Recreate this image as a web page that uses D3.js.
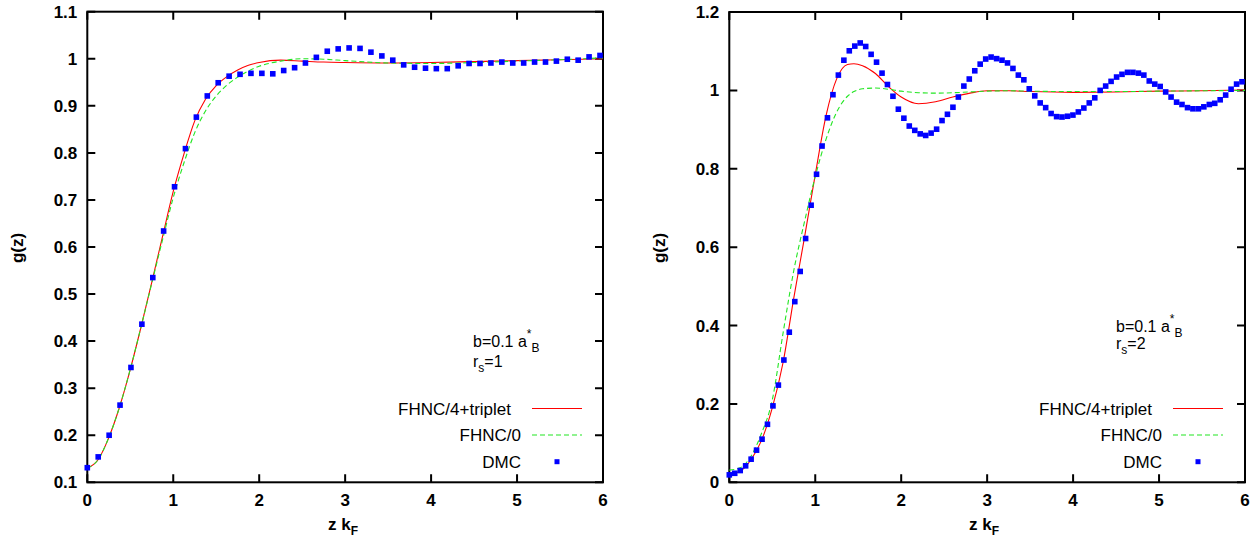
<!DOCTYPE html>
<html>
<head>
<meta charset="utf-8">
<script src="https://cdn.jsdelivr.net/npm/d3@7"></script>
<style>
body { margin: 0; background: #fff; }
text { font-family: "Liberation Sans", Arial, sans-serif; fill: #000; }
</style>
</head>
<body>
<div id="chart"></div>
<script>
// ---- data ----
var xTicks = [0, 1, 2, 3, 4, 5, 6];
var yTicksLeft = [0.1, 0.2, 0.3, 0.4, 0.5, 0.6, 0.7, 0.8, 0.9, 1.0, 1.1];
var yTicksRight = [0, 0.2, 0.4, 0.6, 0.8, 1.0, 1.2];
var legendLabels = ["FHNC/4+triplet", "FHNC/0", "DMC"];

// left panel, r_s = 1
var dmcZLeft = [0, 0.127, 0.254, 0.381, 0.508, 0.635, 0.762, 0.888, 1.015, 1.142, 1.269, 1.396,
    1.523, 1.650, 1.777, 1.904, 2.031, 2.158, 2.285, 2.412, 2.538, 2.665, 2.792, 2.919,
    3.046, 3.173, 3.300, 3.427, 3.554, 3.681, 3.808, 3.935, 4.061, 4.188, 4.315, 4.442,
    4.569, 4.696, 4.823, 4.950, 5.077, 5.204, 5.331, 5.458, 5.585, 5.711, 5.838, 5.965];
var dmcLeft = [0.131, 0.154, 0.200, 0.264, 0.344, 0.436, 0.535, 0.634, 0.728, 0.809, 0.876, 0.921,
    0.949, 0.963, 0.967, 0.969, 0.969, 0.968, 0.975, 0.981, 0.991, 1.003, 1.016, 1.021,
    1.023, 1.022, 1.014, 1.006, 0.997, 0.987, 0.982, 0.980, 0.979, 0.979, 0.985, 0.990,
    0.990, 0.991, 0.993, 0.991, 0.991, 0.993, 0.993, 0.995, 0.999, 0.997, 1.004, 1.007];
var curveZLeft = [0, 0.125, 0.25, 0.375, 0.5, 0.625, 0.75, 0.875, 1.0, 1.125, 1.25, 1.375, 1.5,
    1.625, 1.75, 1.875, 2.0, 2.25, 2.5, 2.75, 3.0, 3.5, 4.0, 4.5, 5.0, 5.5, 6.0];
var tripletLeft = [0.13, 0.148, 0.195, 0.26, 0.34, 0.43, 0.525, 0.622, 0.718, 0.798, 0.868, 0.914, 0.943,
    0.962, 0.976, 0.986, 0.992, 0.997, 0.995, 0.993, 0.992, 0.991, 0.992, 0.994, 0.996, 0.998, 1.0];
var fhnc0Left = [0.13, 0.148, 0.195, 0.26, 0.34, 0.43, 0.523, 0.615, 0.705, 0.779, 0.843, 0.889, 0.921,
    0.944, 0.961, 0.974, 0.984, 0.995, 1.0, 0.999, 0.996, 0.991, 0.990, 0.992, 0.995, 0.998, 1.002];

// right panel, r_s = 2
var dmcZRight = [0, 0.063, 0.127, 0.190, 0.254, 0.317, 0.381, 0.444, 0.508, 0.571, 0.635, 0.698,
    0.762, 0.825, 0.888, 0.952, 1.015, 1.079, 1.142, 1.206, 1.269, 1.333, 1.396, 1.460,
    1.523, 1.587, 1.650, 1.713, 1.777, 1.840, 1.904, 1.967, 2.031, 2.094, 2.158, 2.221,
    2.285, 2.348, 2.412, 2.475, 2.538, 2.602, 2.665, 2.729, 2.792, 2.856, 2.919, 2.983,
    3.046, 3.110, 3.173, 3.237, 3.300, 3.363, 3.427, 3.490, 3.554, 3.617, 3.681, 3.744,
    3.808, 3.871, 3.935, 3.998, 4.061, 4.125, 4.188, 4.252, 4.315, 4.379, 4.442, 4.506,
    4.569, 4.633, 4.696, 4.760, 4.823, 4.886, 4.950, 5.013, 5.077, 5.140, 5.204, 5.267,
    5.331, 5.394, 5.458, 5.521, 5.585, 5.648, 5.711, 5.775, 5.838, 5.902, 5.965];
var dmcRight = [0.019, 0.023, 0.030, 0.042, 0.059, 0.082, 0.110, 0.148, 0.195, 0.248, 0.312, 0.383,
    0.461, 0.538, 0.622, 0.707, 0.786, 0.858, 0.930, 0.989, 1.039, 1.077, 1.101, 1.113,
    1.121, 1.112, 1.092, 1.072, 1.044, 1.015, 0.985, 0.952, 0.929, 0.909, 0.898, 0.889,
    0.885, 0.891, 0.901, 0.923, 0.939, 0.957, 0.983, 1.011, 1.029, 1.050, 1.067, 1.080,
    1.085, 1.081, 1.077, 1.070, 1.056, 1.039, 1.027, 1.004, 0.986, 0.968, 0.956, 0.941,
    0.933, 0.932, 0.934, 0.937, 0.945, 0.955, 0.968, 0.981, 1.000, 1.011, 1.023, 1.034,
    1.041, 1.046, 1.046, 1.044, 1.039, 1.024, 1.016, 1.010, 0.996, 0.983, 0.970, 0.964,
    0.956, 0.953, 0.953, 0.958, 0.964, 0.967, 0.976, 0.988, 1.003, 1.016, 1.022];
var curveZRight = [0, 0.125, 0.25, 0.375, 0.5, 0.625, 0.75, 0.875, 1.0, 1.125, 1.25, 1.375, 1.45,
    1.55, 1.7, 1.85, 2.0, 2.2, 2.4, 2.6, 2.8, 3.0, 3.25, 3.5, 4.0, 4.5, 5.0, 5.5, 6.0];
var tripletRight = [0.021, 0.028, 0.057, 0.107, 0.19, 0.305, 0.47, 0.625, 0.785, 0.935, 1.03, 1.066, 1.068,
    1.063, 1.043, 1.01, 0.983, 0.966, 0.971, 0.983, 0.993, 0.999, 0.999, 0.997, 0.995, 0.996, 0.998, 0.999, 1.001];
var fhnc0Right = [0.031, 0.037, 0.066, 0.125, 0.21, 0.38, 0.54, 0.665, 0.78, 0.875, 0.945, 0.985, 0.997,
    1.004, 1.006, 1.003, 0.998, 0.994, 0.993, 0.994, 0.996, 0.998, 0.999, 0.998, 0.997, 0.997, 0.998, 0.999, 1.0];

var svg = d3.select("#chart").append("svg")
    .attr("width", 1258)
    .attr("height", 539);

function fmt(v)
{
    return String(+v.toFixed(1));
}

function drawPanel(p)
{
    var x = d3.scaleLinear().domain([0, 6]).range([p.left, p.right]);
    var y = d3.scaleLinear().domain(p.yDomain).range([p.bottom, p.top]);
    var g = svg.append("g");
    var tick = 8;

    // frame
    g.append("rect")
        .attr("x", p.left).attr("y", p.top)
        .attr("width", p.right - p.left).attr("height", p.bottom - p.top)
        .style("fill", "none").style("stroke", "#000").style("stroke-width", 2);

    // ticks, mirrored on all sides
    g.selectAll(".xt").data(xTicks).enter().append("path")
        .attr("d", function(d) {
            return "M" + x(d) + "," + p.bottom + "v" + (-tick) + "M" + x(d) + "," + p.top + "v" + tick;
        })
        .style("stroke", "#000").style("stroke-width", 2);
    g.selectAll(".yt").data(p.yTicks).enter().append("path")
        .attr("d", function(d) {
            return "M" + p.left + "," + y(d) + "h" + tick + "M" + p.right + "," + y(d) + "h" + (-tick);
        })
        .style("stroke", "#000").style("stroke-width", 2);

    g.selectAll(".xl").data(xTicks).enter().append("text")
        .attr("x", function(d) { return x(d); })
        .attr("y", p.bottom + 24)
        .attr("text-anchor", "middle")
        .style("font-size", "17px").style("font-weight", "bold")
        .text(function(d) { return d; });
    g.selectAll(".yl").data(p.yTicks).enter().append("text")
        .attr("x", p.left - 10)
        .attr("y", function(d) { return y(d) + 6; })
        .attr("text-anchor", "end")
        .style("font-size", "17px").style("font-weight", "bold")
        .text(fmt);

    // axis labels
    g.append("text")
        .attr("transform", "translate(" + p.ylabX + ",248) rotate(-90)")
        .attr("text-anchor", "middle")
        .style("font-size", "17px").style("font-weight", "bold")
        .text("g(z)");
    var xl = g.append("text")
        .attr("x", p.xlabX).attr("y", 530)
        .style("font-size", "17px").style("font-weight", "bold");
    xl.append("tspan").text("z k");
    xl.append("tspan").attr("dy", 5).style("font-size", "12px").text("F");

    // curves
    var line = d3.line()
        .x(function(d) { return x(d[0]); })
        .y(function(d) { return y(d[1]); })
        .curve(d3.curveMonotoneX);

    g.append("path")
        .datum(d3.zip(p.curveZ, p.triplet))
        .attr("d", line)
        .style("fill", "none").style("stroke", "#ff0000").style("stroke-width", 1.1);
    g.append("path")
        .datum(d3.zip(p.curveZ, p.fhnc0))
        .attr("d", line)
        .style("fill", "none").style("stroke", "#22e622").style("stroke-width", 1.1)
        .style("stroke-dasharray", "5,3");

    g.selectAll(".dmc").data(d3.zip(p.dmcZ, p.dmc)).enter().append("rect")
        .attr("x", function(d) { return x(d[0]) - 2.8; })
        .attr("y", function(d) { return y(d[1]) - 2.8; })
        .attr("width", 5.6).attr("height", 5.6)
        .style("fill", "#0000ff");

    // annotation
    var a1 = g.append("text")
        .attr("x", p.noteX).attr("y", p.noteY)
        .style("font-size", "16px");
    a1.append("tspan").text("b=0.1 a");
    a1.append("tspan").attr("dy", -9).style("font-size", "12px").text("*");
    a1.append("tspan").attr("dy", 14).style("font-size", "12px").text("B");
    var a2 = g.append("text")
        .attr("x", p.noteX).attr("y", p.noteY + p.noteGap)
        .style("font-size", "16px");
    a2.append("tspan").text("r");
    a2.append("tspan").attr("dy", 5).style("font-size", "12px").text("s");
    a2.append("tspan").attr("dy", -5).text("=" + p.rs);

    // legend
    var rows = [408.5, 435, 461.7];
    var ends = [p.legX - 10, p.legX, p.legX];
    g.selectAll(".lt").data(legendLabels).enter().append("text")
        .attr("x", function(d, i) { return ends[i]; })
        .attr("y", function(d, i) { return rows[i] + 6; })
        .attr("text-anchor", "end")
        .style("font-size", "17px")
        .text(function(d) { return d; });
    g.append("line")
        .attr("x1", p.legX + 11).attr("x2", p.legX + 61)
        .attr("y1", rows[0]).attr("y2", rows[0])
        .style("stroke", "#ff0000").style("stroke-width", 1.1);
    g.append("line")
        .attr("x1", p.legX + 11).attr("x2", p.legX + 61)
        .attr("y1", rows[1]).attr("y2", rows[1])
        .style("stroke", "#22e622").style("stroke-width", 1.1)
        .style("stroke-dasharray", "5,3");
    g.append("rect")
        .attr("x", p.legX + 36 - 2.5).attr("y", rows[2] - 2.5)
        .attr("width", 5).attr("height", 5)
        .style("fill", "#0000ff");
}

drawPanel({
    left: 87.3, right: 603, top: 11.7, bottom: 482.3,
    yDomain: [0.1, 1.1], yTicks: yTicksLeft,
    dmcZ: dmcZLeft, dmc: dmcLeft,
    curveZ: curveZLeft, triplet: tripletLeft, fhnc0: fhnc0Left,
    ylabX: 23, xlabX: 328,
    noteX: 473, noteY: 346.7, noteGap: 20, rs: 1,
    legX: 521
});

drawPanel({
    left: 729.3, right: 1245, top: 12, bottom: 482.3,
    yDomain: [0, 1.2], yTicks: yTicksRight,
    dmcZ: dmcZRight, dmc: dmcRight,
    curveZ: curveZRight, triplet: tripletRight, fhnc0: fhnc0Right,
    ylabX: 665, xlabX: 969,
    noteX: 1116, noteY: 331.7, noteGap: 17.6, rs: 2,
    legX: 1162
});
</script>
</body>
</html>
